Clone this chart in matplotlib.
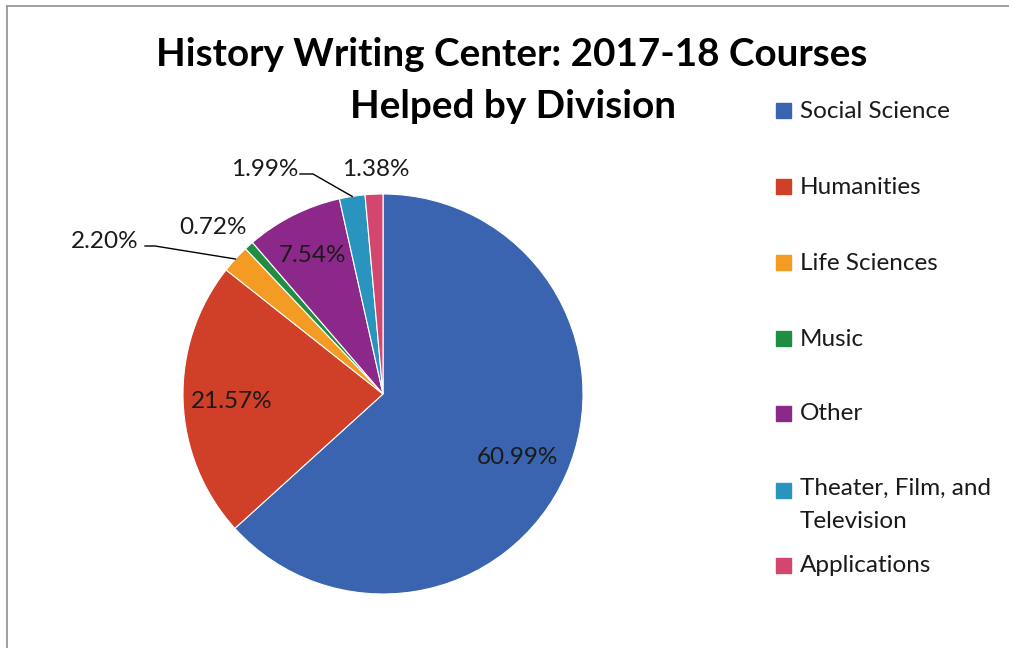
import numpy as np
import matplotlib.pyplot as plt
from matplotlib.patches import Rectangle
from matplotlib.lines import Line2D

categories = ['Social Science', 'Humanities', 'Life Sciences', 'Music', 'Other',
              'Theater, Film, and\nTelevision', 'Applications']
values = [60.99, 21.57, 2.20, 0.72, 7.54, 1.99, 1.38]
labels = ['60.99%', '21.57%', '2.20%', '0.72%', '7.54%', '1.99%', '1.38%']
colors = ['#3A64AF', '#D03F27', '#F39B22', '#1F8E40', '#8B2889', '#2995BE', '#D3476F']

# label positions (axes data units, radius = 1)
label_pos = [(0.67, -0.32), (-0.755, -0.04), (-1.39, 0.76), (-0.85, 0.83),
             (-0.355, 0.69), (-0.59, 1.12), (-0.035, 1.12)]

plt.rcParams['font.family'] = ['Lato', 'DejaVu Sans']

W, H = 1009, 648
fig = plt.figure(figsize=(W / 100, H / 100), dpi=100)

cx, cy, r = 383, 394, 200
ax = fig.add_axes([(cx - r) / W, (H - cy - r) / H, 2 * r / W, 2 * r / H])
wedges, _ = ax.pie(values, colors=colors, startangle=90, counterclock=False,
                   radius=1, wedgeprops=dict(edgecolor='white', linewidth=0.8))
ax.set_xlim(-1, 1)
ax.set_ylim(-1, 1)
ax.set_aspect('equal')
ax.axis('off')

for txt, (x, y) in zip(labels, label_pos):
    ax.text(x, y, txt, ha='center', va='center', fontsize=17.5, color='#1a1a1a',
            clip_on=False)

# leader lines for the small slices
for i, (x0, x1) in [(2, (-1.19, -1.14)), (5, (-0.415, -0.35))]:
    w = wedges[i]
    mid = np.deg2rad((w.theta1 + w.theta2) / 2)
    ex, ey = np.cos(mid), np.sin(mid)
    y = label_pos[i][1] - 0.02
    ax.add_line(Line2D([x0, x1, ex], [y, y, ey], color='black', lw=1, clip_on=False))

fig.text(512 / W, 1 - 55 / H, 'History Writing Center: 2017-18 Courses',
         ha='center', va='center', fontsize=27.8, fontweight='bold')
fig.text(513 / W, 1 - 107 / H, 'Helped by Division',
         ha='center', va='center', fontsize=27.8, fontweight='bold')

# legend drawn by hand
leg_y = [111, 187, 263, 339, 414, 491, 566]
for name, col, y in zip(categories, colors, leg_y):
    fig.patches.append(Rectangle((776 / W, 1 - (y + 7) / H), 15 / W, 15 / H,
                                 transform=fig.transFigure, color=col))
    if '\n' in name:
        fig.text(800 / W, 1 - (y - 13) / H, name, ha='left', va='top',
                 fontsize=17.5, color='#1a1a1a', linespacing=1.7)
    else:
        fig.text(800 / W, 1 - y / H, name, ha='left', va='center',
                 fontsize=17.5, color='#1a1a1a')

# chart border (left and top edges visible)
fig.add_artist(Line2D([6.5 / W, 6.5 / W], [0, 1 - 5.5 / H], color='#999999', lw=1.3))
fig.add_artist(Line2D([6.5 / W, 1.01], [1 - 5.5 / H, 1 - 5.5 / H], color='#999999', lw=1.3))

fig.savefig('out.png', dpi=100, facecolor='white')
